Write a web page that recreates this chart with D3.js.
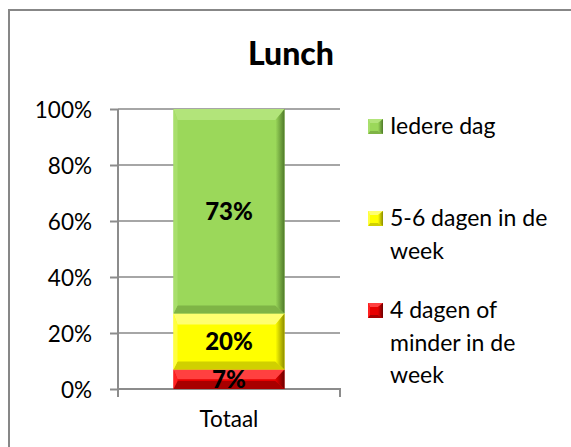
<!DOCTYPE html>
<html><head><meta charset="utf-8">
<script src="https://cdn.jsdelivr.net/npm/d3@7"></script>
<style>html,body{margin:0;padding:0;background:#fff;overflow:hidden}</style>
</head><body><svg id="c" width="571" height="447"></svg>
<script>
const title = "Lunch";
const categories = ["Totaal"];
const seriesNames = ["4 dagen of minder in de week", "5-6 dagen in de week", "Iedere dag"];
const legendLines = [["4 dagen of", "minder in de", "week"], ["5-6 dagen in de", "week"], ["Iedere dag"]];
const valuesLow = [7];
const valuesMid = [20];
const valuesHigh = [73];
const tickValues = [0, 20, 40, 60, 80, 100];
const tickLabels = ["0%", "20%", "40%", "60%", "80%", "100%"];
const dataLabels = ["7%", "20%", "73%"];

const palette = [
  {main:"#e80000", top:"#ff4040", left:"#ff2020", bottom:"#a80000", right:"#6a0000"},
  {main:"#ffff00", top:"#ffff70", left:"#ffff40", bottom:"#d0d000", right:"#8c8c00"},
  {main:"#9bd85a", top:"#b2e47a", left:"#a8df6c", bottom:"#7fb446", right:"#4f7a2a"}
];
const series = [valuesLow, valuesMid, valuesHigh];

const svg = d3.select("#c");
const font = "Lato, 'Open Sans', sans-serif";

svg.append("rect").attr("x", 9).attr("y", 10).attr("width", 640).attr("height", 520)
  .attr("fill", "#fff").attr("stroke", "#878787").attr("stroke-width", 2);

svg.append("text").attr("x", 291).attr("y", 65).attr("text-anchor", "middle")
  .attr("font-family", font).attr("font-weight", "900").attr("font-size", 32).text(title);

const x = d3.scaleBand().domain(categories).range([118, 340]).paddingInner(0.5).paddingOuter(0.25);
const y = d3.scaleLinear().domain([0, 100]).range([389, 109]);

svg.append("g").selectAll("line").data(tickValues.slice(1)).join("line")
  .attr("x1", 118).attr("x2", 340).attr("y1", d => y(d)).attr("y2", d => y(d))
  .attr("stroke", "#a6a6a6").attr("stroke-width", 2);

const yAxis = d3.axisLeft(y).tickValues(tickValues).tickFormat((d, i) => tickLabels[i]).tickSize(8).tickPadding(18);
const gy = svg.append("g").attr("transform", "translate(118,0)").call(yAxis);
gy.select(".domain").attr("stroke", "#8c8c8c").attr("stroke-width", 2).attr("d", `M0,${y(100)}V${y(0)}`);
gy.selectAll(".tick line").attr("stroke", "#8c8c8c").attr("stroke-width", 2);
gy.selectAll(".tick text").attr("font-family", font).attr("font-size", 22.5).attr("fill", "#000").attr("dy", "0.36em");

const xAxis = d3.axisBottom(x).tickSize(0).tickPadding(22);
const gx = svg.append("g").attr("transform", `translate(0,${y(0)})`).call(xAxis);
gx.select(".domain").attr("stroke", "#8c8c8c").attr("stroke-width", 2).attr("d", "M118,8V0H340V8");
gx.selectAll(".tick text").attr("font-family", font).attr("font-size", 22.5).attr("fill", "#000");

const defs = svg.append("defs");
palette.forEach((p, i) => {
  const g = defs.append("linearGradient").attr("id", "rg" + i).attr("x1", 0).attr("x2", 1).attr("y1", 0).attr("y2", 0);
  g.append("stop").attr("offset", 0).attr("stop-color", p.main);
  g.append("stop").attr("offset", 1).attr("stop-color", p.right);
});

function bevel(g, x0, y0, x1, y1, p, i, bt, bs, bl, bb) {
  const h = y1 - y0;
  bt = Math.min(bt, h / 2); bb = Math.min(bb, h / 2);
  g.append("rect").attr("x", x0).attr("y", y0).attr("width", x1 - x0).attr("height", h).attr("fill", p.main);
  const poly = (pts, fill) => g.append("polygon").attr("points", pts.map(q => q.join(",")).join(" ")).attr("fill", fill);
  poly([[x0, y0], [x1, y0], [x1 - bs, y0 + bt], [x0 + bl, y0 + bt]], p.top);
  poly([[x0, y1], [x1, y1], [x1 - bs, y1 - bb], [x0 + bl, y1 - bb]], p.bottom);
  poly([[x0, y0], [x0 + bl, y0 + bt], [x0 + bl, y1 - bb], [x0, y1]], p.left);
  poly([[x1, y0], [x1 - bs, y0 + bt], [x1 - bs, y1 - bb], [x1, y1]], `url(#rg${i})`);
}

const bars = svg.append("g");
categories.forEach((c, ci) => {
  let acc = 0;
  series.forEach((s, si) => {
    const v = s[ci];
    const y0 = y(acc + v), y1 = y(acc);
    bevel(bars.append("g"), x(c), y0, x(c) + x.bandwidth(), y1, palette[si], si, 11, 9, 4, 8);
    bars.append("text").attr("x", x(c) + x.bandwidth() / 2).attr("y", (y0 + y1) / 2).attr("dy", "0.36em")
      .attr("text-anchor", "middle").attr("font-family", font).attr("font-weight", "900").attr("font-size", 24)
      .text(dataLabels[si]);
    acc += v;
  });
});

const legendTop = [126, 218, 310];
const lg = svg.append("g");
[2, 1, 0].forEach((si, k) => {
  const cy = legendTop[k];
  bevel(lg.append("g"), 368, cy - 7, 383, cy + 8, palette[si], si, 4, 5, 2, 3);
  lg.append("text").attr("font-family", font).attr("font-size", 23).attr("fill", "#000")
    .selectAll("tspan").data(legendLines[si]).join("tspan")
    .attr("x", 390).attr("y", (d, j) => cy + j * 32.5).attr("dy", "0.36em").text(d => d);
});
</script></body></html>
